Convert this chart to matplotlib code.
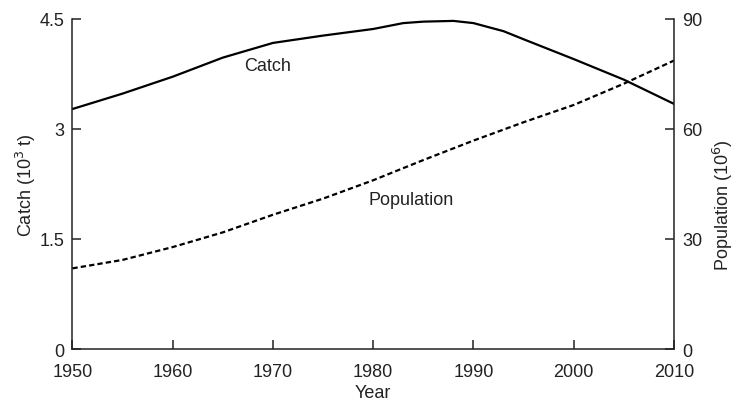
import matplotlib.pyplot as plt

plt.rcParams['font.family'] = ['Liberation Sans', 'DejaVu Sans']
plt.rcParams['font.size'] = 13
plt.rcParams['text.color'] = '#222222'
plt.rcParams['axes.labelcolor'] = '#222222'

# catch (10^3 t), left axis
catch_years = [1950, 1955, 1960, 1965, 1970, 1975, 1980, 1983, 1985, 1988, 1990, 1993, 1995, 2000, 2005, 2010]
catch = [3.27, 3.48, 3.71, 3.97, 4.17, 4.27, 4.36, 4.44, 4.46, 4.47, 4.44, 4.33, 4.22, 3.95, 3.67, 3.34]

# population (10^6), right axis
pop_years = [1950, 1955, 1960, 1965, 1970, 1975, 1980, 1985, 1990, 1995, 2000, 2005, 2010]
population = [22.0, 24.3, 27.8, 31.8, 36.6, 41.0, 46.0, 51.5, 56.8, 61.8, 66.5, 72.3, 78.6]

year_ticks = [1950, 1960, 1970, 1980, 1990, 2000, 2010]
catch_ticks = [0, 1.5, 3, 4.5]
pop_ticks = [0, 30, 60, 90]

fig = plt.figure(figsize=(7.39, 4.02), dpi=100)
ax = fig.add_axes([0.098, 0.129, 0.814, 0.822])
ax2 = ax.twinx()

ax.plot(catch_years, catch, color='black', lw=1.6)
ax2.plot(pop_years, population, color='black', lw=1.6, dashes=(2.4, 1.4))

ax.set_xlim(1950, 2010)
ax.set_ylim(0, 4.5)
ax2.set_ylim(0, 90)

ax.set_xticks(year_ticks)
ax.set_yticks(catch_ticks)
ax.set_yticklabels(['0', '1.5', '3', '4.5'])
ax2.set_yticks(pop_ticks)

for a in (ax, ax2):
    a.spines['top'].set_visible(False)
    for s in a.spines.values():
        s.set_linewidth(1.1)
        s.set_color('#222222')
    a.tick_params(direction='in', length=6.5, width=1.1, colors='#222222', labelsize=13, pad=6)
ax2.spines['left'].set_visible(False)
ax2.spines['bottom'].set_visible(False)
ax.spines['right'].set_visible(False)
ax.tick_params(axis='x', pad=10)

ax.set_xlabel('Year', fontsize=13)
ax.xaxis.set_label_coords(0.5, -0.105)
ax.set_ylabel('Catch (10$^3$ t)', fontsize=13)
ax.yaxis.set_label_coords(-0.058, 0.5)
ax2.set_ylabel('Population (10$^6$)', fontsize=13)
ax2.yaxis.set_label_coords(1.062, 0.44)

ax.text(1969.5, 3.86, 'Catch', ha='center', va='center', fontsize=13)
ax.text(1983.8, 2.04, 'Population', ha='center', va='center', fontsize=13)

fig.savefig('out.png', dpi=100)
